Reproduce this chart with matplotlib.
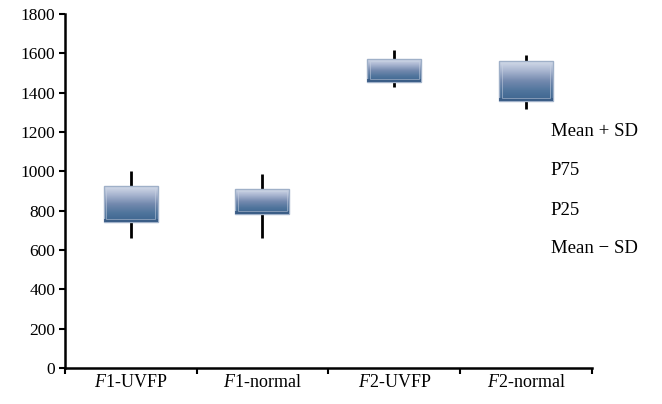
import numpy as np
import matplotlib
matplotlib.use("Agg")
import matplotlib.pyplot as plt
from matplotlib.patches import Rectangle
from matplotlib.colors import LinearSegmentedColormap

categories = [r"$\mathit{F}$1-UVFP", r"$\mathit{F}$1-normal", r"$\mathit{F}$2-UVFP", r"$\mathit{F}$2-normal"]
mean_plus_sd = [1000, 985, 1620, 1590]
p75 = [925, 910, 1570, 1560]
p25 = [745, 785, 1455, 1360]
mean_minus_sd = [660, 660, 1430, 1320]
yticks = [0, 200, 400, 600, 800, 1000, 1200, 1400, 1600, 1800]
legend_labels = ["Mean + SD", "P75", "P25", "Mean \u2212 SD"]

plt.rcParams["font.family"] = ["Liberation Serif", "DejaVu Serif"]
plt.rcParams["mathtext.fontset"] = "custom"
plt.rcParams["mathtext.rm"] = "Liberation Serif"
plt.rcParams["mathtext.it"] = "Liberation Serif:italic"

fig = plt.figure(figsize=(6.62, 4.04), dpi=100)
ax = fig.add_axes([0.098, 0.089, 0.796, 0.876])

cmap = LinearSegmentedColormap.from_list("bev", ["#3d648e", "#4f749c", "#7389ae", "#a7b4cf", "#d5dcea"])
grad = np.linspace(0, 1, 256).reshape(-1, 1)
width = 0.41
for i in range(len(categories)):
    ax.plot([i, i], [mean_minus_sd[i], mean_plus_sd[i]], color="black", lw=2.0, zorder=1, solid_capstyle="butt")
    x0 = i - width / 2
    rect = Rectangle((x0, p25[i]), width, p75[i] - p25[i], facecolor="none", edgecolor="none", zorder=2)
    ax.add_patch(rect)
    im = ax.imshow(grad, extent=(x0, x0 + width, p25[i], p75[i]), origin="lower", cmap=cmap,
                   aspect="auto", zorder=2, interpolation="bilinear")
    im.set_clip_path(rect)
    h = p75[i] - p25[i]
    band = min(14, h * 0.12)
    ax.add_patch(Rectangle((x0, p25[i]), width, h, facecolor="none", edgecolor="#9fb0c8", lw=1.0, zorder=3))
    ax.add_patch(Rectangle((x0, p25[i]), width, band, facecolor="#3a5c85", edgecolor="none", zorder=3, alpha=0.9))
    ax.add_patch(Rectangle((x0 + 0.02, p25[i] + band), width - 0.04, h - band - 10,
                           facecolor="none", edgecolor="#c8d2e2", lw=0.6, zorder=3, alpha=0.6))

ax.set_xlim(-0.5, len(categories) - 0.5)
ax.set_ylim(0, 1800)
ax.set_yticks(yticks)
ax.set_xticks(np.arange(-0.5, len(categories), 1.0))
ax.set_xticklabels([])
ax.set_xticks(np.arange(len(categories)), minor=True)
ax.set_xticklabels(categories, minor=True)
ax.tick_params(axis="x", which="minor", length=0, labelsize=13, pad=4)
ax.tick_params(axis="x", which="major", length=4, width=1.5, direction="out")
ax.tick_params(axis="y", length=4, width=1.5, labelsize=12.5, direction="out", pad=3)
for s in ["top", "right"]:
    ax.spines[s].set_visible(False)
for s in ["left", "bottom"]:
    ax.spines[s].set_linewidth(1.8)

ypos = [0.674, 0.577, 0.480, 0.386]
for lab, y in zip(legend_labels, ypos):
    fig.text(0.832, y, lab, fontsize=13.5, va="center", ha="left")

fig.savefig("out.png", dpi=100)
